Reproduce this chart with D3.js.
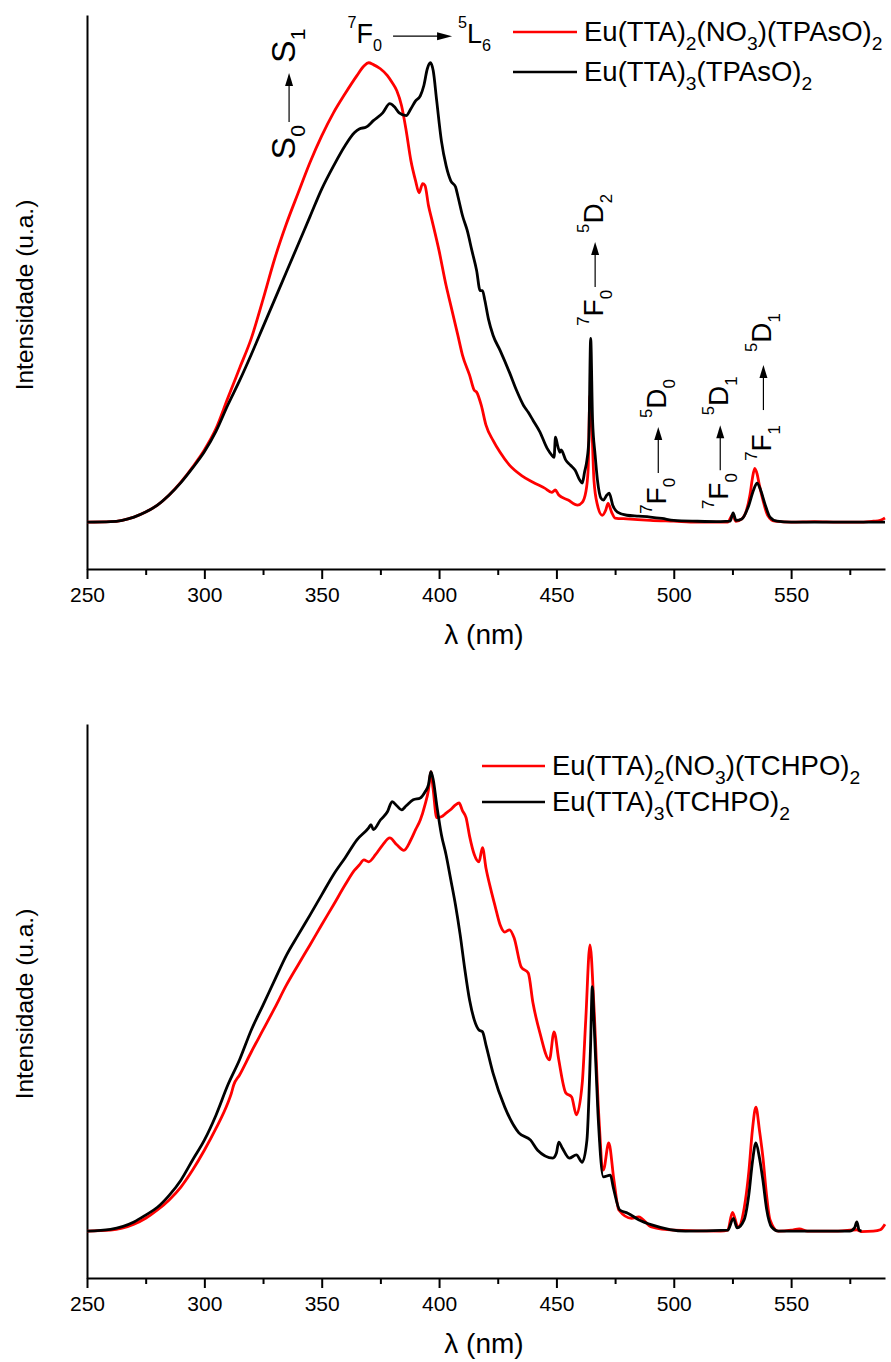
<!DOCTYPE html>
<html><head><meta charset="utf-8">
<script src="https://cdn.jsdelivr.net/npm/d3@7"></script>
<style>
body{margin:0;background:#fff}
svg{display:block}
text{font-family:"Liberation Sans",Arial,Helvetica,sans-serif;fill:#000}
</style>
</head><body>
<svg id="chart" width="891" height="1362"></svg>
<script>
// ---------------- data (wavelength nm, relative intensity) ----------------
const xTicks = [250, 300, 350, 400, 450, 500, 550];
const xMinorTicks = [275, 325, 375, 425, 475, 525, 575];
const xLabel = "λ (nm)";
const yLabel = "Intensidade (u.a.)";

const topSeriesNames = [
  [{t:"Eu(TTA)"},{t:"2",s:"sub"},{t:"(NO"},{t:"3",s:"sub"},{t:")(TPAsO)"},{t:"2",s:"sub"}],
  [{t:"Eu(TTA)"},{t:"3",s:"sub"},{t:"(TPAsO)"},{t:"2",s:"sub"}]
];
const bottomSeriesNames = [
  [{t:"Eu(TTA)"},{t:"2",s:"sub"},{t:"(NO"},{t:"3",s:"sub"},{t:")(TCHPO)"},{t:"2",s:"sub"}],
  [{t:"Eu(TTA)"},{t:"3",s:"sub"},{t:"(TCHPO)"},{t:"2",s:"sub"}]
];

const topNO3TPAsO = [[250,0],[260,0.1],[265,0.4],[270,1.1],[275,2.2],[280,3.7],[285,5.9],[290,8.7],[295,12.0],[300,15.7],[305,20.4],[310,27],[315,33.5],[320,40],[325,48.5],[330,57.4],[335,65],[340,71.7],[345,78.3],[350,84.1],[355,89.1],[360,93.3],[365,97.2],[368,99.3],[370,100],[372,99.6],[375,98.7],[378,97.2],[380,95.7],[382,93.9],[384,90.7],[386,85.2],[388,78.7],[390,74.3],[391.5,71.7],[393,73.7],[394,73.3],[395.5,68.9],[397,65.7],[400,59.1],[403,51.5],[405,47.2],[408,40.7],[410,36.3],[413,32],[415,28.7],[416,28.3],[418,25.4],[420,21.1],[423,17.8],[426,15.2],[430,12.4],[435,10.2],[440,8.7],[445,7.4],[448,6.5],[449.5,7.0],[451,5.9],[455,4.8],[459,3.7],[461,4.3],[462.5,6.5],[463.5,11.3],[464.3,27.6],[465,22.2],[466,9.1],[467.5,3.7],[469.5,1.5],[471,2.6],[472,4.1],[473.5,2.2],[475,0.9],[480,0.7],[490,0.4],[500,0.2],[510,0],[523,0],[525,1.5],[526.5,0.2],[529,0.7],[531,2.6],[532.5,6],[533.5,9.5],[534.5,11.7],[535.5,10.5],[536.5,8],[538,4.8],[540,1.5],[543,0.2],[550,0],[560,0.1],[570,0],[580,0],[585,0.2],[588,0.4],[590,0.9]];

const topTTA3TPAsO = [[250,0],[260,0.1],[265,0.4],[270,1.1],[275,2.2],[280,3.7],[285,5.9],[290,8.6],[295,11.8],[300,15.3],[305,19.8],[310,25.5],[315,30.8],[320,36.5],[325,42.5],[330,48.5],[335,54.5],[340,60.5],[345,66.5],[350,72.5],[355,77.5],[360,82],[364,84.8],[366,85.6],[369,86],[372,87.4],[376,89.1],[379,91.1],[381,90.4],[383,89.1],[386,88.5],[388,90],[390,91.7],[392,92.8],[393.5,95],[395,98.7],[396.3,100],[397.5,98.3],[399,91.7],[401,83],[403,77.6],[405,74.3],[407,73],[408,71],[410,66.7],[412,63.5],[414,59.1],[416,54.8],[417.5,50.4],[418.5,50.4],[419.5,48.3],[421,44.3],[423,40.7],[426,37.4],[430,32.6],[433,28.7],[436,25.4],[438,23.9],[440,22.2],[443,19.6],[446,16.1],[448,14.6],[449,14.1],[449.6,18.5],[450.5,16.7],[451.5,15.2],[452,15.7],[454,13.5],[456,12.4],[458,11.3],[460,9.1],[461,8.5],[462,10.9],[463,13.5],[463.8,17.8],[464.6,40],[465.4,22.2],[466.5,14.6],[467.5,9.1],[469,5.2],[470,4.8],[471.5,5.9],[472.5,6.3],[474,3.7],[476,2.2],[480,1.5],[485,1.3],[490,1.1],[495,0.8],[500,0.4],[510,0.2],[520,0.1],[524,0.2],[525.3,2.0],[526.5,0.4],[529,0.7],[532,3.7],[534,7],[535.5,8.5],[537,7],[539,3.7],[541,1.1],[544,0.2],[550,0],[590,0]];

const botNO3TCHPO = [[250,0],[260,0.2],[270,1.5],[275,2.8],[280,4.6],[285,6.8],[290,9.6],[295,13.3],[300,17.6],[305,22.4],[310,27.9],[311.5,30],[312.5,31.8],[315,34],[320,39],[325,43.8],[330,48.6],[335,53.6],[340,58],[345,62.3],[350,66.7],[355,71],[360,75.4],[364,78.6],[366,79.7],[368,80.8],[370,80.4],[373,82],[376,84.1],[379,85.6],[382,84.1],[385,82.9],[388,85.2],[390,87.4],[392,89.5],[394,92.8],[395.5,96.1],[396.5,100],[397.5,96.1],[399,90],[401,90.2],[403,91],[405,91.8],[407,92.8],[408.5,93.2],[410,91.5],[411.5,90],[413,86],[415,82],[417,80.4],[418.5,83.5],[420,79],[422,74.5],[424,70.5],[426,66.7],[428,65.1],[430,65.6],[432,63.8],[435,57.5],[438,56.2],[440,49.7],[443,43.1],[447,37.3],[449,43.4],[451,37.3],[454,30.1],[456.5,29.2],[458.5,25.3],[461,32.2],[462.5,46],[464.3,62.3],[466,48.8],[468,25.7],[470,13.3],[472.3,19.2],[474.5,11.1],[476.6,4.6],[482,2.8],[485,3.1],[490.5,0.9],[500,0.2],[520,0],[523,0.2],[525,4.1],[527.4,0.9],[530,5],[532,13],[533.5,22],[535,27],[536.5,22],[538,16],[539.5,8],[541,2.5],[544.5,0],[550,0.2],[553.5,0.5],[557,0],[570,0],[578,0.3],[580,-0.1],[585,0],[588,0.3],[590,1.5]];

const botTTA3TCHPO = [[250,0],[260,0.4],[270,2.0],[275,3.5],[280,5.2],[285,7.8],[290,11.1],[295,15.5],[300,19.8],[305,25.3],[310,31.8],[315,37.3],[320,43.8],[325,49.2],[330,54.7],[335,60.1],[340,64.5],[345,68.8],[350,73.2],[355,77.6],[360,81.3],[365,85.2],[370,87.8],[371,88.5],[372,87.4],[375,89.5],[378,91.3],[380,93.5],[382,92.6],[384,91.7],[386,92.6],[389,93.9],[392,94.3],[394,95.6],[395.5,97.2],[396.5,100],[397.5,98.3],[399,92.8],[401,86.3],[403,81.9],[405,76.5],[407,71],[409,64.5],[411,56.9],[413,50.3],[415,46],[417,43.8],[418.5,43.4],[420,40.5],[423,34.4],[428,27],[434,21.4],[439,19.8],[442,17.6],[448.5,15.9],[450,17],[451,19.4],[452.5,18.1],[455.5,15.9],[458.5,16.6],[461,15],[463,19.8],[464.5,39.4],[465.3,53.2],[466,46],[467.7,25.7],[470,11.8],[473,12.2],[474.2,9.6],[477,4.6],[480.4,3.9],[485,2.5],[491,1.3],[505,0],[523,0.2],[525.4,2.8],[527,0.7],[530,2.5],[532,8],[533.5,15],[535,19.2],[536.5,16],[538,11],[539.5,5],[541.7,0.9],[544.7,0],[560,0],[575,0],[577,0.7],[578,2],[579,0.2],[580,0]];

// annotation texts
const S0 = [{t:"S"},{t:"0",s:"sub"}], S1 = [{t:"S"},{t:"1",s:"sub"}];
const F0 = [{t:"7",s:"sup"},{t:"F"},{t:"0",s:"sub"}];
const F1 = [{t:"7",s:"sup"},{t:"F"},{t:"1",s:"sub"}];
const L6 = [{t:"5",s:"sup"},{t:"L"},{t:"6",s:"sub"}];
const D0 = [{t:"5",s:"sup"},{t:"D"},{t:"0",s:"sub"}];
const D1 = [{t:"5",s:"sup"},{t:"D"},{t:"1",s:"sub"}];
const D2 = [{t:"5",s:"sup"},{t:"D"},{t:"2",s:"sub"}];

// ---------------- layout ----------------
const svg = d3.select("#chart");
const X0 = 87, X1 = 885;
const panels = [
  {top:15, bottom:569, series:[topNO3TPAsO, topTTA3TPAsO], names:topSeriesNames,
   legend:{x:513, y:32, len:64, dy:40}},
  {top:724, bottom:1278, series:[botNO3TCHPO, botTTA3TCHPO], names:bottomSeriesNames,
   legend:{x:482, y:766, len:63, dy:36}}
];
const colors = ["#ff0000", "#000000"];
const x = d3.scaleLinear().domain([250, 590]).range([X0, X1]);

function addRich(text, parts, size, o) {
  o = o || {};
  const subDy = size*(o.sub ?? 0.3), supDy = -size*(o.sup ?? 0.5), sc = o.scale ?? 0.62;
  let cur = 0;
  parts.forEach(p => {
    const target = p.s === "sub" ? subDy : p.s === "sup" ? supDy : 0;
    text.append("tspan").attr("dy", (target - cur).toFixed(2))
      .attr("font-size", p.s ? size*sc : size).text(p.t);
    cur = target;
  });
}

function arrowHead(g, x1, y1, angle, len, hw) {
  const c = Math.cos(angle), s = Math.sin(angle);
  const bx = x1 - c*len, by = y1 - s*len;
  g.append("path").attr("d",
    `M${x1},${y1}L${bx - s*hw},${by + c*hw}L${bx + s*hw},${by - c*hw}Z`).attr("fill","#000");
}

function transition(g, cx, cy, rot, L, A, B, o) {
  const grp = g.append("g").attr("transform", `translate(${cx},${cy}) rotate(${rot})`);
  grp.append("line").attr("x1",0).attr("y1",0).attr("x2",L-o.head+1).attr("y2",0)
    .attr("stroke","#000").attr("stroke-width",1.2);
  arrowHead(grp, L, 0, 0, o.head, o.hw);
  const ta = grp.append("text").attr("x", -o.gA).attr("y", o.base).attr("text-anchor","end");
  addRich(ta, A, o.size, o.rich);
  const tb = grp.append("text").attr("x", L + o.gB).attr("y", o.base).attr("text-anchor","start");
  addRich(tb, B, o.size, o.rich);
}

panels.forEach((p, i) => {
  const y = d3.scaleLinear().domain([-10.2, 110.4]).range([p.bottom, p.top]);
  p.y = y;
  const g = svg.append("g");

  const ax = g.append("g").attr("transform", `translate(0,${p.bottom})`)
    .call(d3.axisBottom(x).tickValues(xTicks).tickFormat(d3.format("d"))
      .tickSize(10).tickSizeOuter(0).tickPadding(8));
  ax.select(".domain").attr("stroke-width", 2).attr("stroke","#000");
  ax.selectAll(".tick line").attr("stroke-width", 2).attr("stroke","#000");
  ax.selectAll(".tick text").attr("font-size", 21).attr("font-family", null).attr("fill","#000");
  const mx = g.append("g").attr("transform", `translate(0,${p.bottom})`)
    .call(d3.axisBottom(x).tickValues(xMinorTicks).tickFormat("").tickSize(6).tickSizeOuter(0));
  mx.select(".domain").remove();
  mx.selectAll(".tick line").attr("stroke-width", 2).attr("stroke","#000");
  const ay = g.append("g").attr("transform", `translate(${X0},0)`)
    .call(d3.axisLeft(y).tickValues([]).tickSizeOuter(0));
  ay.select(".domain").attr("stroke-width", 2).attr("stroke","#000");

  g.append("text").attr("x", 484).attr("y", p.bottom + 75).attr("text-anchor","middle")
    .attr("font-size", 28).text(xLabel);
  g.append("text").attr("transform", `translate(33,${(p.top + p.bottom)/2 + 3}) rotate(-90)`)
    .attr("text-anchor","middle").attr("font-size", 24.5).text(yLabel);

  const line = d3.line().x(d => x(d[0])).y(d => y(d[1])).curve(d3.curveMonotoneX);
  p.series.forEach((s, k) => {
    g.append("path").datum(s).attr("d", line).attr("fill","none")
      .attr("stroke", colors[k]).attr("stroke-width", 2.8).attr("stroke-linejoin","round");
  });

  p.names.forEach((nm, k) => {
    const ly = p.legend.y + k*p.legend.dy;
    g.append("line").attr("x1", p.legend.x).attr("x2", p.legend.x + p.legend.len)
      .attr("y1", ly).attr("y2", ly).attr("stroke", colors[k]).attr("stroke-width", 2.5);
    const t = g.append("text").attr("x", p.legend.x + p.legend.len + 7).attr("y", ly + 9)
      .attr("font-size", 27.5);
    addRich(t, nm, 27.5, {sub:0.33, scale:0.7});
  });
});

// ---------------- annotations (top panel) ----------------
const yT = panels[0].y;
const ann = svg.append("g");
const rot = {size:28, head:13, hw:4, base:8, rich:{sub:0.3, sup:0.5, scale:0.6}};
transition(ann, x(336.1), yT(87.1), -90, 49, S0, S1, {size:34, head:13, hw:4, base:6, gA:3, gB:10, rich:{sub:0.3, scale:0.62}});
transition(ann, x(380.4), yT(105.8), 0, 59, F0, L6, {size:27, head:15, hw:4, base:7, gA:11, gB:6, rich:{sub:0.3, sup:0.55, scale:0.6}});
transition(ann, x(466.5), yT(51.2), -90, 45, F0, D2, Object.assign({}, rot, {gA:3, gB:9}));
transition(ann, x(493.4), yT(10.7), -90, 46, F0, D0, Object.assign({}, rot, {gA:5, gB:9}));
transition(ann, x(519.8), yT(11.3), -90, 45, F0, D1, Object.assign({}, rot, {gA:3, gB:10}));
transition(ann, x(538.2), yT(24.4), -90, 45, F1, D1, Object.assign({}, rot, {gA:15, gB:13}));
</script>
</body></html>
